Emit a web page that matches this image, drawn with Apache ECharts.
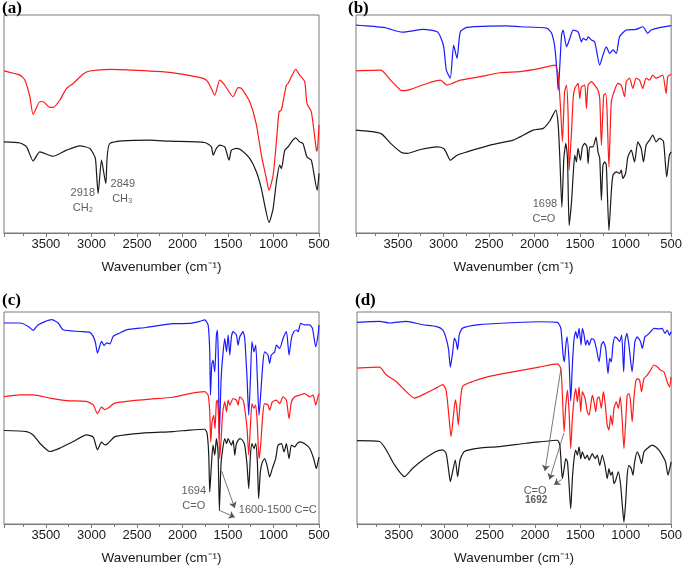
<!DOCTYPE html>
<html>
<head>
<meta charset="utf-8">
<script src="https://cdn.jsdelivr.net/npm/echarts@6/dist/echarts.min.js"></script>
<style>
  html, body { margin: 0; padding: 0; background: #fff; }
  #main { width: 685px; height: 566px; }
</style>
</head>
<body>
<div id="main"></div>
<script>
// wavenumber axis (cm-1), drawn reversed
const xMin = 500;
const xMax = 3960;
const xStep = 500;
const panelLabels = ["(a)", "(b)", "(c)", "(d)"];
const axisTitle = "Wavenumber (cm\u207B\u00B9)";

// transmittance, arbitrary units (0 = bottom of frame, 100 = top)
const aRed = [[3960,74.4],[3785,72.4],[3730,70.1],[3676,62.5],[3640,54.4],[3566,60.2],[3530,60.2],[3456,57.6],[3420,57.6],[3346,61],[3273,66.3],[3200,68.6],[3090,72.9],[3017,74.3],[2797,75.1],[2395,74.4],[2139,73.7],[1800,71.3],[1736,70.1],[1700,67.8],[1645,63.2],[1590,70.1],[1535,67.8],[1444,62.5],[1389,66.7],[1352,66.3],[1261,60.2],[1187,49.5],[1133,35.7],[1078,25],[1049,19.6],[1004,26.5],[968,41.8],[939,55.6],[913,56.4],[895,60.2],[858,67.8],[840,68.6],[803,71.7],[756,75.1],[712,72.4],[657,69.4],[632,59.4],[584,55.6],[529,38],[520,37.5],[500,49.5]];
const aBlack = [[3960,41.8],[3785,41.3],[3712,39.5],[3640,33.1],[3566,37.2],[3420,35.2],[3273,38],[3127,40],[3017,38.8],[2980,36.5],[2955,34],[2926,18.1],[2889,33.4],[2842,22.7],[2797,41.1],[2358,42.6],[2139,42.1],[1755,41.5],[1682,39.5],[1663,35.7],[1627,38.8],[1590,40.3],[1535,39.5],[1488,33.4],[1462,38],[1407,38.8],[1352,38],[1261,34.2],[1187,28],[1133,20.4],[1096,12.7],[1049,4.8],[1004,11.2],[968,23.4],[932,31.1],[913,29.6],[876,38],[840,39.5],[803,41.8],[756,43.6],[712,41.8],[676,41.1],[632,34.9],[584,33.4],[520,19.6],[500,27.3]];

const bBlue = [[3960,95.4],[3653,94.3],[3452,92.1],[3216,93.4],[3069,92.3],[3033,90],[2997,85.4],[2968,74.7],[2925,71],[2888,86.2],[2851,80.1],[2815,92.3],[2742,94.3],[2304,95],[2159,94.6],[1867,94],[1812,91.6],[1776,84.7],[1751,72.4],[1740,65.5],[1722,77],[1703,90.8],[1686,93.1],[1649,85.4],[1612,89.3],[1576,93.1],[1522,92.3],[1485,87.7],[1467,89.3],[1430,88.5],[1412,90],[1375,88.5],[1339,87.7],[1284,77],[1249,81.6],[1212,85.4],[1175,82.4],[1139,84],[1102,82.4],[1066,90],[993,93.1],[884,93.4],[811,94.6],[757,91.6],[720,93.1],[629,94.2],[500,95.1]];
const bRed = [[3960,74.4],[3689,74.7],[3580,70.1],[3470,65.5],[3420,65.3],[3361,65.9],[3179,68.6],[3033,70.1],[2960,67.8],[2905,68.6],[2815,70.1],[2596,71.7],[2378,73.5],[2159,74],[1940,75.5],[1776,77],[1740,72.4],[1710,54],[1694,42],[1670,64.8],[1649,67.8],[1631,54.1],[1620,28.8],[1594,46.4],[1576,61.7],[1558,66.3],[1522,68.6],[1503,61.7],[1485,67.1],[1449,67.8],[1430,57.1],[1412,67.8],[1375,69.4],[1339,67.8],[1303,65.5],[1284,61.7],[1266,40.3],[1241,63.2],[1219,64],[1205,57.1],[1183,30.3],[1157,60.2],[1121,65.5],[1085,68.6],[1048,67.8],[1011,62.5],[993,69.4],[957,71],[921,66.3],[884,71],[847,70.1],[811,66.3],[775,71],[738,70.1],[702,72.4],[665,71],[629,71.7],[592,72.4],[555,64],[537,71.7],[500,72.8]];
const bBlack = [[3960,47.2],[3689,45.7],[3580,41.1],[3470,37.2],[3397,36.5],[3252,38.3],[3069,39.5],[2997,38.8],[2970,37],[2924,33.4],[2851,35.7],[2742,37.2],[2487,40.3],[2232,42.6],[2159,44.1],[2014,47.2],[1904,48],[1831,51.5],[1766,56.4],[1740,49.5],[1722,34.2],[1700,11.9],[1678,34.2],[1656,41.1],[1638,34.2],[1620,3.5],[1594,14.2],[1576,26.5],[1558,35.7],[1540,32.6],[1522,38.8],[1496,33.4],[1474,39.5],[1449,41.1],[1424,39.5],[1412,31.9],[1394,39.5],[1358,39.5],[1325,44],[1303,37.2],[1284,34.2],[1266,15],[1249,31.1],[1230,32.6],[1212,31.1],[1183,1.2],[1157,18.8],[1139,26.5],[1102,28],[1066,27.3],[1048,28.8],[1030,25],[1000,27.3],[975,34.9],[938,38],[902,32.6],[866,41.8],[829,38.8],[804,32.6],[775,40.3],[738,42.6],[702,44.9],[665,41.8],[629,43.4],[585,42.1],[549,25.7],[520,35.7],[500,37.2]];

const cBlue = [[3960,94.8],[3785,94.8],[3694,93.2],[3640,91.3],[3584,94],[3437,96.4],[3365,94.8],[3310,91.6],[3127,90.8],[3017,90.4],[2980,88.5],[2955,85.4],[2933,80.6],[2889,86.1],[2860,84.2],[2834,85.4],[2797,85],[2761,88.5],[2688,90.1],[2614,91.6],[2395,92.7],[2103,94.5],[1919,94.6],[1810,95.6],[1755,96.3],[1718,93.9],[1700,81.2],[1692,60.8],[1678,75],[1664,77.3],[1645,71.8],[1627,89.1],[1616,91.5],[1605,76.5],[1596,40],[1575,68.6],[1553,81.2],[1535,87.5],[1516,81.2],[1498,89.1],[1480,79.7],[1462,88.3],[1443,90.7],[1407,89.1],[1389,84.4],[1370,88.3],[1334,90.7],[1316,87.5],[1290,68.6],[1272,51.3],[1253,68.6],[1236,86],[1214,81.2],[1195,84.4],[1177,68.6],[1159,51.3],[1141,60.8],[1115,76.5],[1097,81.2],[1060,79.7],[1042,75.7],[1024,79.7],[987,81.2],[968,84.4],[932,82.8],[895,87.5],[858,90.7],[829,79.7],[803,87.5],[777,90.7],[748,91.5],[730,90.7],[700,94.6],[657,93.9],[602,93.9],[572,92.3],[536,83.6],[511,89.1],[500,93.9]];
const cRed = [[3960,60.1],[3785,60.9],[3640,60.9],[3456,59.4],[3273,58.2],[3053,57.8],[2980,56.2],[2933,52],[2889,55.1],[2852,53.9],[2816,54.7],[2742,57],[2541,58.2],[2358,58.9],[2103,59.8],[1919,61.5],[1755,62.4],[1718,60.8],[1700,52.9],[1689,38.7],[1675,48.2],[1656,51.3],[1642,45],[1627,57.6],[1616,58.4],[1602,49.7],[1591,30.8],[1575,40.3],[1557,52.9],[1535,57.6],[1516,52.9],[1498,58.4],[1480,56.1],[1443,59.2],[1407,58.4],[1389,56.1],[1370,60],[1334,58.4],[1316,54.5],[1290,45],[1272,32.5],[1253,46.6],[1236,56.8],[1214,54.5],[1195,56.1],[1177,46.6],[1159,30.8],[1141,37.2],[1115,52.9],[1097,56.8],[1060,56.1],[1042,53.7],[1013,57.6],[968,58.4],[932,56.8],[895,60],[858,58.4],[829,49.7],[803,57.6],[766,60],[712,60.8],[657,61.5],[602,60],[565,60.8],[536,56.1],[511,60],[500,61.5]];
const cBlack = [[3960,44.1],[3712,43.6],[3640,42],[3566,38.1],[3456,34.2],[3346,35.8],[3200,38.9],[3053,42],[2980,41],[2933,35],[2889,38.6],[2852,37.3],[2816,38.1],[2742,41.2],[2541,42.5],[2358,43.1],[2103,43.6],[1919,44.3],[1755,44.7],[1729,42.7],[1711,32.5],[1700,15.1],[1682,27.7],[1664,37.2],[1645,32.5],[1627,40.3],[1609,34],[1594,6.5],[1577,27.7],[1557,35.6],[1535,40.3],[1516,37.9],[1498,40.3],[1480,38.7],[1462,37.2],[1443,39.5],[1425,32.5],[1407,37.9],[1370,40.3],[1341,39.5],[1316,37.2],[1290,27.7],[1272,16.7],[1253,32.5],[1236,37.9],[1214,35.6],[1195,37.9],[1177,29.3],[1163,12],[1144,24.6],[1122,29.3],[1097,30.8],[1071,27.7],[1042,22.2],[1013,26.1],[976,30.8],[950,37.2],[913,37.9],[884,34],[858,37.9],[829,30.8],[803,37.2],[766,36.4],[740,37.9],[712,38.7],[657,37.9],[602,35.6],[558,30.8],[529,26.1],[511,29.3],[500,31.6]];

const dBlue = [[3960,95.1],[3712,95.6],[3602,94.8],[3419,95.6],[3236,94],[3089,93.2],[3016,91.6],[2979,87.7],[2951,82.2],[2932,74],[2907,80.6],[2888,87.7],[2869,86.1],[2852,82.2],[2833,89.3],[2797,92.4],[2613,94],[2320,94.8],[1954,95.4],[1753,95.1],[1715,92.3],[1690,79.7],[1676,76.5],[1660,84.4],[1646,88.3],[1624,76.5],[1606,58],[1588,75],[1569,87.5],[1551,90.7],[1533,87.5],[1514,92.3],[1492,84.4],[1478,92.3],[1459,89.1],[1441,84.4],[1423,86.8],[1404,84.4],[1375,87.5],[1349,86.8],[1324,82.8],[1294,76.5],[1269,84.4],[1247,86],[1221,82.8],[1196,71],[1177,78.1],[1159,76.5],[1141,84.4],[1119,88.3],[1093,87.5],[1067,86],[1045,89.1],[1023,71.8],[1009,86],[987,89.9],[965,84.4],[930,71.8],[899,86],[874,88.3],[837,86],[819,82.8],[789,88.3],[764,89.1],[727,90.7],[690,92.3],[635,92],[599,92.3],[569,89.9],[544,91.5],[518,89.1],[500,90.7]];
const dRed = [[3960,73.5],[3712,74],[3639,70.4],[3529,67.2],[3419,62.5],[3327,59.4],[3199,61.7],[3089,64.1],[3016,65.7],[2979,63.3],[2951,52.3],[2924,41.2],[2899,50.7],[2877,58.6],[2863,55.4],[2844,46.8],[2825,56.2],[2797,64.9],[2687,67.2],[2503,69.6],[2320,71.2],[1954,74],[1753,75.5],[1715,73.4],[1698,60.8],[1679,43.5],[1660,56.1],[1642,63.2],[1624,52.9],[1606,35.6],[1588,49.7],[1569,59.2],[1551,63.9],[1533,57.6],[1514,64.7],[1496,52.9],[1478,62.4],[1448,59.2],[1423,52.9],[1404,51.3],[1386,56.1],[1368,60.8],[1349,57.6],[1331,52.9],[1313,59.2],[1294,60],[1269,54.5],[1247,62.4],[1229,57.6],[1204,46.6],[1185,44.3],[1166,51.3],[1148,46.6],[1130,54.5],[1104,57.6],[1082,54.5],[1060,60],[1038,48.2],[1020,35.6],[1001,48.2],[984,60.8],[965,61.5],[947,57.6],[929,48.2],[910,59.2],[891,67.1],[874,68.6],[848,67.9],[826,62.4],[800,68.6],[764,70.2],[727,72.6],[690,75],[654,74.2],[617,72.6],[580,71.8],[544,67.1],[518,64.7],[500,69.4]];
const dBlack = [[3960,39.3],[3712,38.9],[3639,35],[3547,27.9],[3437,22.3],[3346,26.3],[3236,30.2],[3089,34.2],[3016,35],[2979,33.4],[2951,25.5],[2932,20],[2907,24.7],[2877,30.2],[2852,22.3],[2825,30.2],[2778,34.2],[2613,35.8],[2393,36.5],[2100,38.1],[1954,38.7],[1753,39.5],[1726,37.2],[1708,26.1],[1698,21.4],[1679,26.1],[1660,30.8],[1642,29.3],[1624,18.3],[1606,7.2],[1588,21.4],[1569,30.8],[1551,34.8],[1533,32.5],[1514,36.4],[1496,30.8],[1478,34],[1448,30.8],[1423,32.5],[1404,30.1],[1368,33.2],[1338,30.8],[1313,32.5],[1287,27.7],[1258,32.5],[1229,27.7],[1204,21.4],[1185,26.1],[1166,23],[1148,24.6],[1130,19],[1111,20.6],[1082,24.6],[1056,18.3],[1038,8.8],[1020,0.9],[1001,10.4],[984,23],[965,27.7],[939,26.1],[921,23],[902,29.3],[874,34],[848,31.6],[826,28.5],[800,34],[764,35.6],[709,37.2],[672,36.4],[635,34.8],[599,32.5],[562,29.3],[534,23],[516,26.1],[500,29.3]];

// text notes: [wavenumber, value, text, bold]
const aNotes = [[3094,18.2,"2918",false],[3094,11.6,"CH\u2082",false],[2655,22.4,"2849",false],[2660,15.8,"CH\u2083",false]];
const bNotes = [[1886,13.2,"1698",false],[1897,6.6,"C=O",false]];
const cNotes = [[1875,15.4,"1694",false],[1875,8.4,"C=O",false],[953,6.6,"1600-1500 C=C",false]];
const dNotes = [[1998,15.6,"C=O",false],[1987,11.3,"1692",true]];

// arrows: [[fromW, fromV], [toW, toV]]
const cArrows = [[[1570,25],[1425,7.5]],[[1598,6.5],[1425,3.2]]];
const dArrows = [[[1715,73],[1890,25]],[[1680,43],[1840,21]],[[1705,21],[1790,18.5]]];

const grids = [
  { left: 4, top: 15, width: 315, height: 218 },
  { left: 356, top: 15, width: 316, height: 218 },
  { left: 4, top: 312, width: 315, height: 212 },
  { left: 357, top: 312, width: 315, height: 212 },
];
const labelPos = [[2, 0], [348, 0], [2, 292], [355, 292]];

const frameColor = "#7a7a7a";
const RED = "#ff1a1a";
const BLUE = "#1a1aff";
const BLACK = "#1a1a1a";

function xAxisFor(i) {
  return {
    gridIndex: i,
    type: "value",
    inverse: true,
    min: xMin,
    max: xMax,
    interval: xStep,
    name: axisTitle,
    nameLocation: "middle",
    nameGap: 27,
    nameTextStyle: { fontSize: 13.5, color: "#1a1a1a", fontFamily: "Liberation Sans" },
    axisLine: { show: true, lineStyle: { color: frameColor, width: 1 } },
    axisTick: { show: true, inside: false, length: 4, lineStyle: { color: frameColor } },
    minorTick: { show: true, splitNumber: 2, length: 3, lineStyle: { color: frameColor } },
    splitLine: { show: false },
    axisLabel: {
      margin: 5,
      fontSize: 13,
      color: "#1a1a1a",
      fontFamily: "Liberation Sans",
      formatter: (v) => (v % xStep === 0 ? String(v) : ""),
    },
  };
}

function yAxisFor(i) {
  return { gridIndex: i, type: "value", min: 0, max: 100, show: false };
}

function lineSeries(i, data, color) {
  return {
    type: "line",
    xAxisIndex: i,
    yAxisIndex: i,
    data: data,
    symbol: "none",
    smooth: 0.2,
    lineStyle: { color: color, width: 1.2 },
    z: 3,
    animation: false,
  };
}

function noteSeries(i, notes, arrows) {
  const s = {
    type: "scatter",
    xAxisIndex: i,
    yAxisIndex: i,
    symbolSize: 1,
    itemStyle: { color: "rgba(0,0,0,0)" },
    animation: false,
    silent: true,
    z: 5,
    label: { show: true, position: "inside" },
    data: notes.map((n) => ({
      value: [n[0], n[1]],
      label: {
        show: true,
        position: "inside",
        formatter: n[2],
        fontSize: n[3] ? 10 : 11,
        fontWeight: n[3] ? "bold" : "normal",
        color: "#333",
        fontFamily: "Liberation Sans",
      },
    })),
  };
  if (arrows) {
    s.markLine = {
      silent: true,
      animation: false,
      symbol: ["none", "arrow"],
      symbolSize: 6,
      label: { show: false },
      lineStyle: { color: "#555", width: 0.8, type: "solid" },
      data: arrows.map((a) => [{ coord: a[0] }, { coord: a[1] }]),
    };
  }
  return s;
}

const myChart = echarts.init(document.getElementById("main"), null, { renderer: "canvas" });
const option = {
  backgroundColor: "#fff",
  animation: false,
  title: panelLabels.map((t, i) => ({
    text: t,
    left: labelPos[i][0],
    top: labelPos[i][1],
    padding: 0,
    textStyle: { fontFamily: "Liberation Serif", fontWeight: "bold", fontSize: 17, color: "#000" },
  })),
  grid: grids.map((g) => ({
    ...g,
    show: true,
    borderColor: frameColor,
    borderWidth: 1,
    backgroundColor: "transparent",
  })),
  xAxis: [0, 1, 2, 3].map(xAxisFor),
  yAxis: [0, 1, 2, 3].map(yAxisFor),
  series: [
    lineSeries(0, aRed, RED),
    lineSeries(0, aBlack, BLACK),
    noteSeries(0, aNotes),
    lineSeries(1, bBlue, BLUE),
    lineSeries(1, bRed, RED),
    lineSeries(1, bBlack, BLACK),
    noteSeries(1, bNotes),
    lineSeries(2, cBlue, BLUE),
    lineSeries(2, cRed, RED),
    lineSeries(2, cBlack, BLACK),
    noteSeries(2, cNotes, cArrows),
    lineSeries(3, dBlue, BLUE),
    lineSeries(3, dRed, RED),
    lineSeries(3, dBlack, BLACK),
    noteSeries(3, dNotes, dArrows),
  ],
};
myChart.setOption(option);
</script>
</body>
</html>
